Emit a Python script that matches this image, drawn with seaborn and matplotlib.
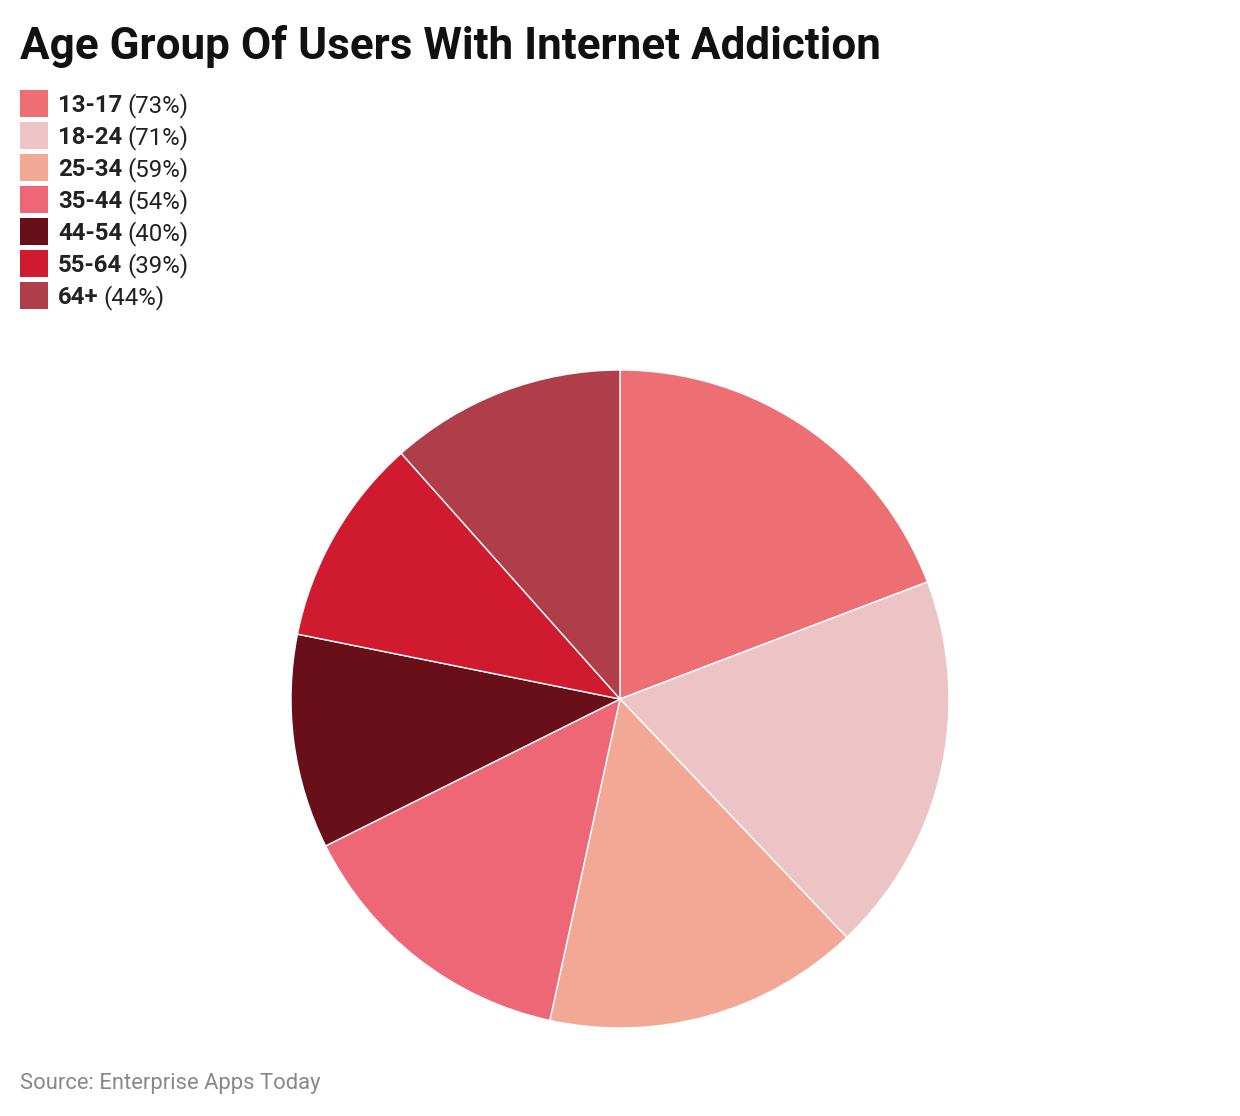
import matplotlib
matplotlib.use("Agg")
import matplotlib.pyplot as plt
import seaborn as sns
from matplotlib.patches import Rectangle

categories = ["13-17", "18-24", "25-34", "35-44", "44-54", "55-64", "64+"]
values = [73, 71, 59, 54, 40, 39, 44]
colors = ["#EE6F73", "#EDC4C6", "#F2A894", "#ED6777", "#690F1A", "#CF1A2F", "#B03E4A"]
title = "Age Group Of Users With Internet Addiction"
source = "Source: Enterprise Apps Today"

sns.set_theme(style="white")
plt.rcParams['font.family'] = ['Roboto', 'DejaVu Sans']

W, H = 1240, 1116
fig = plt.figure(figsize=(W / 100, H / 100), dpi=100)
fig.patch.set_facecolor("white")

# pie axes: center (620, 699), radius 329 px
cx, cy, r = 620, 699, 329
ax = fig.add_axes([(cx - r) / W, (H - (cy + r)) / H, 2 * r / W, 2 * r / H])
ax.pie(values, colors=colors, startangle=90, counterclock=False, radius=1,
       wedgeprops=dict(edgecolor="white", linewidth=1))
ax.set_xlim(-1, 1)
ax.set_ylim(-1, 1)
ax.set_aspect("equal")
ax.axis("off")

fig.text(20 / W, 1 - 47 / H, title, fontsize=31.7, fontweight="bold", color="#111111",
         va="center", ha="left")

# legend
for i, (cat, val, col) in enumerate(zip(categories, values, colors)):
    ytop = 90 + i * 32
    fig.patches.append(Rectangle((20 / W, 1 - (ytop + 27) / H), 28 / W, 27 / H,
                                 transform=fig.transFigure, facecolor=col, edgecolor="none"))
    t = fig.text(58 / W, 1 - (ytop + 15.5) / H, cat, fontsize=17.3, fontweight="bold",
                 color="#222222", va="center", ha="left")
    fig.canvas.draw()
    bb = t.get_window_extent()
    fig.text((bb.x1 + 5) / W, 1 - (ytop + 15.5) / H, f"({val}%)", fontsize=17.3,
             color="#222222", va="center", ha="left")

fig.text(20 / W, 1 - 1083.5 / H, source, fontsize=15.8, color="#888888", va="center", ha="left")

fig.savefig("out.png", dpi=100, facecolor="white")
